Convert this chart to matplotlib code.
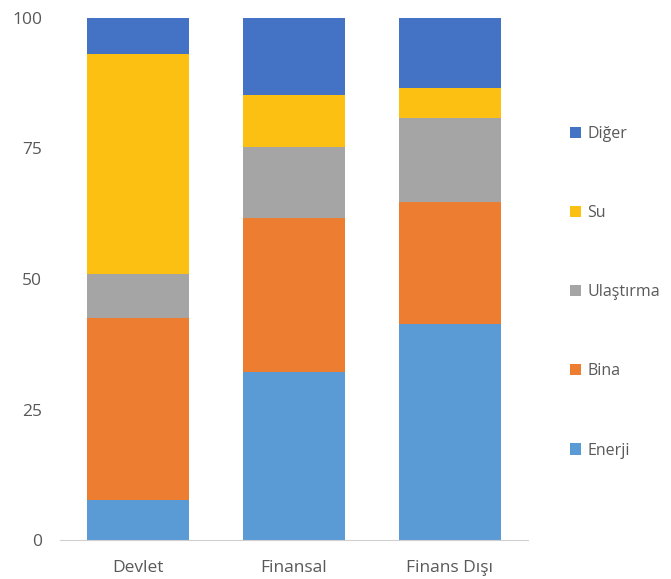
import matplotlib.pyplot as plt
import numpy as np

plt.rcParams['font.family'] = ['Open Sans', 'DejaVu Sans']

categories = ['Devlet', 'Finansal', 'Finans Dışı']
series_names = ['Enerji', 'Bina', 'Ulaştırma', 'Su', 'Diğer']
enerji = [7.7, 32.2, 41.4]
bina = [34.9, 29.4, 23.3]
ulastirma = [8.3, 13.7, 16.2]
su = [42.1, 10.0, 5.6]
diger = [7.0, 14.7, 13.5]
yticks = [0, 25, 50, 75, 100]

colors = ['#5B9BD5', '#ED7D31', '#A5A5A5', '#FBC012', '#4472C4']
text_color = '#595959'

fig = plt.figure(figsize=(6.71, 5.79), dpi=100)
ax = fig.add_axes([0.0894, 0.0668, 0.697, 0.9026])

x = np.arange(len(categories))
bottom = np.zeros(len(categories))
handles = []
for name, vals, col in zip(series_names, [enerji, bina, ulastirma, su, diger], colors):
    b = ax.bar(x, vals, width=0.657, bottom=bottom, color=col, label=name)
    handles.append(b)
    bottom += np.array(vals)

ax.set_xlim(-0.5, 2.5)
ax.set_ylim(0, 100)
ax.set_yticks(yticks)
ax.set_yticklabels([str(t) for t in yticks])
ax.set_xticks(x)
ax.set_xticklabels(categories)
ax.tick_params(axis='both', length=0, colors=text_color, labelsize=12.5)
ax.tick_params(axis='y', pad=13)
ax.tick_params(axis='x', pad=14)

for side in ['left', 'right', 'top']:
    ax.spines[side].set_visible(False)
ax.spines['bottom'].set_color('#D0D0D0')

leg = fig.legend(handles[::-1], series_names[::-1], loc='center left',
                 bbox_to_anchor=(0.828, 0.495), frameon=False,
                 fontsize=11.5, labelspacing=3.95, handlelength=0.7,
                 handleheight=0.7, handletextpad=0.4)
for t in leg.get_texts():
    t.set_color(text_color)

fig.savefig('out.png', dpi=100)
